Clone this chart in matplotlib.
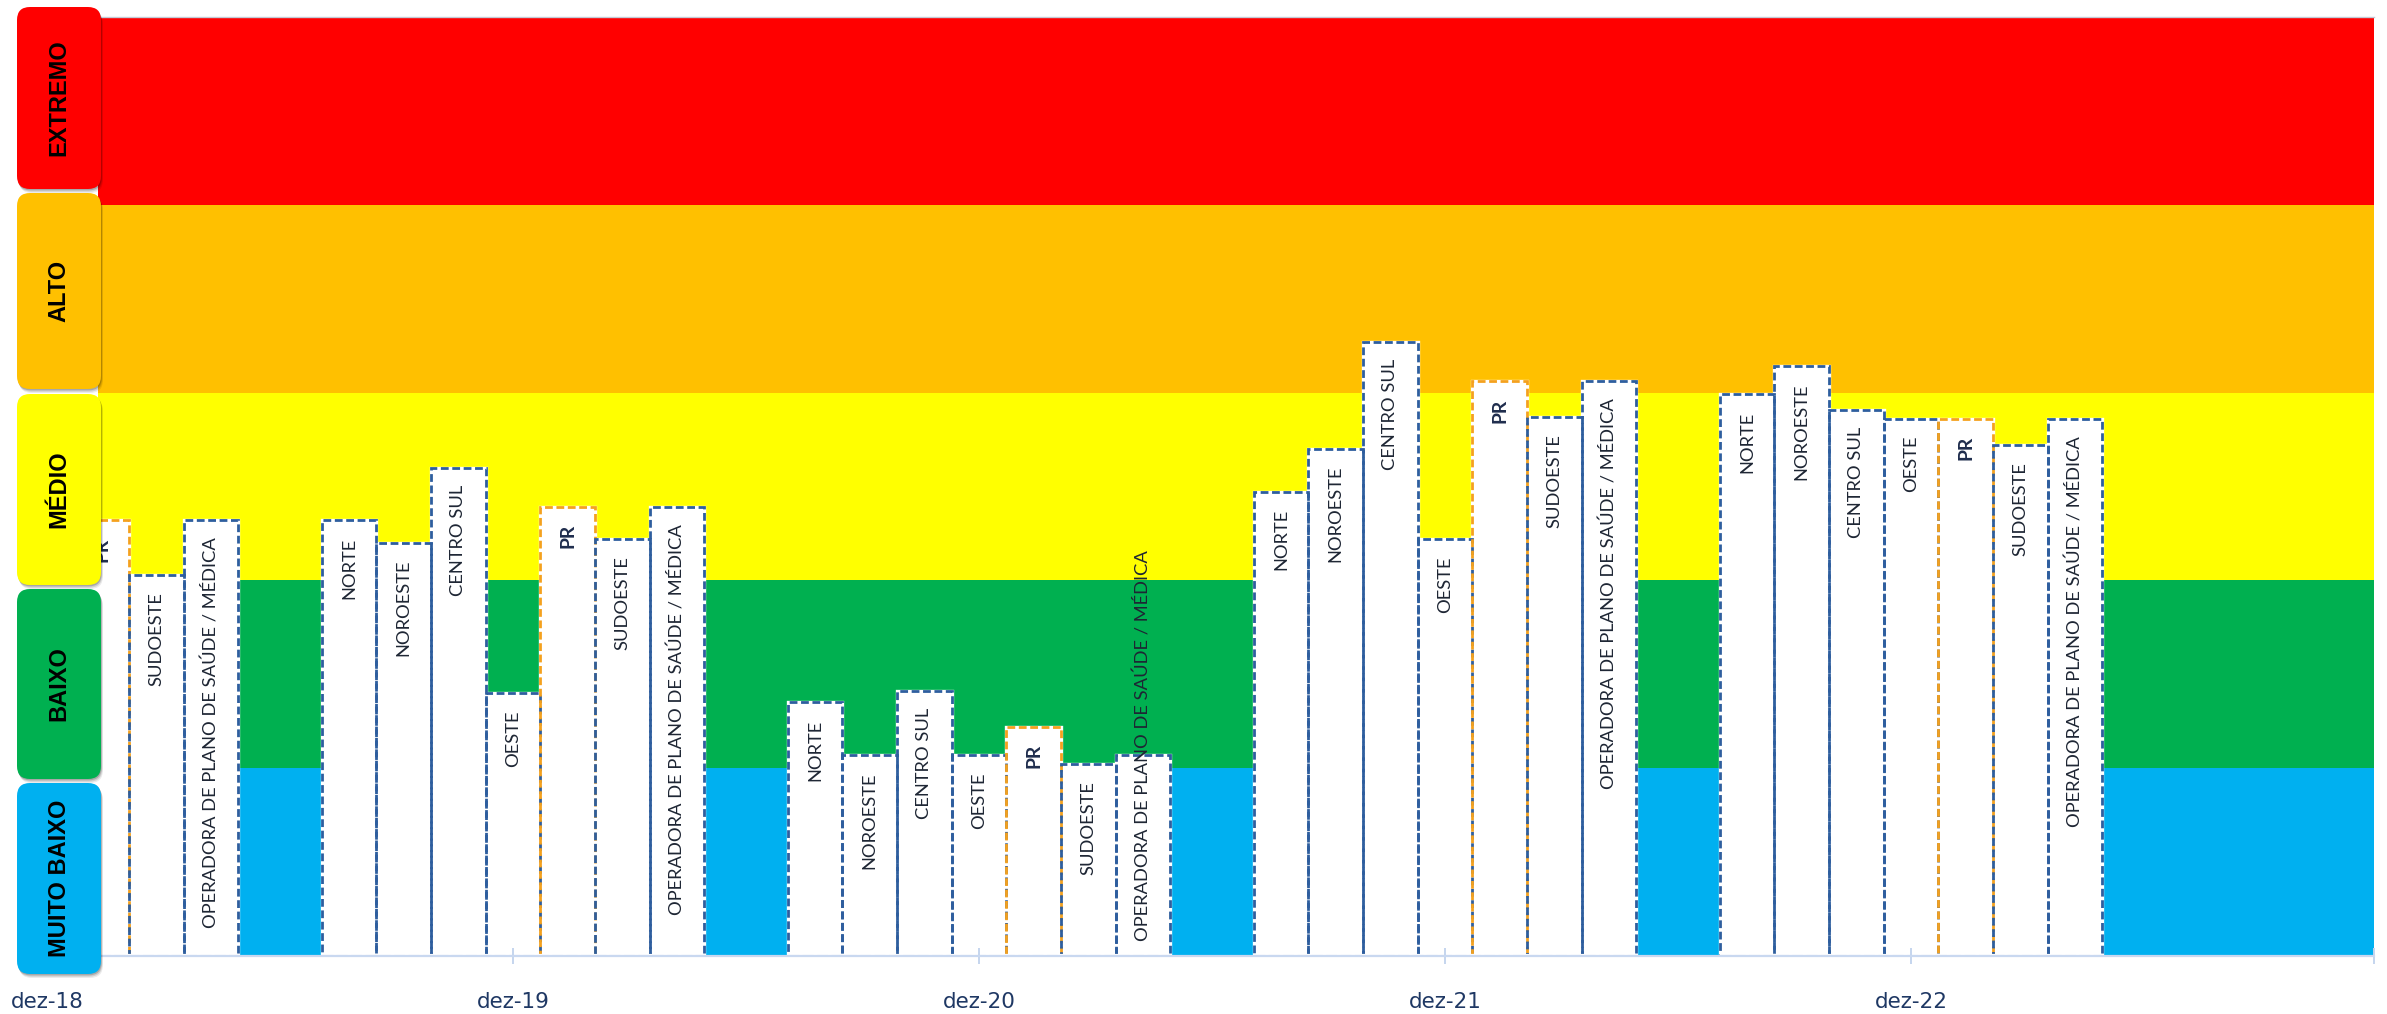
import numpy as np
import matplotlib
matplotlib.use('Agg')
import matplotlib.pyplot as plt
from matplotlib.patches import FancyBboxPatch
from matplotlib.ticker import FixedLocator, NullFormatter

# ---------------- data ----------------
periods = ['dez-18', 'dez-19', 'dez-20', 'dez-21', 'dez-22']
regions = ['NORTE', 'NOROESTE', 'CENTRO SUL', 'OESTE', 'PR', 'SUDOESTE',
           'OPERADORA DE PLANO DE SAÚDE / MÉDICA']
# values on the 0-5 risk scale (first group partly outside the visible window)
norte      = [np.nan, 2.32, 1.35, 2.47, 2.99]
noroeste   = [np.nan, 2.20, 1.07, 2.70, 3.14]
centro_sul = [np.nan, 2.60, 1.41, 3.27, 2.91]
oeste      = [np.nan, 1.40, 1.07, 2.22, 2.86]
pr         = [2.32, 2.39, 1.22, 3.06, 2.86]
sudoeste   = [2.03, 2.22, 1.02, 2.87, 2.72]
operadora  = [2.32, 2.39, 1.07, 3.06, 2.86]

levels = ['MUITO BAIXO', 'BAIXO', 'MÉDIO', 'ALTO', 'EXTREMO']
level_colors = ['#00B0F0', '#00B050', '#FFFF00', '#FFC000', '#FF0000']

# ---------------- figure ----------------
W, H = 2387, 1014
DPI = 100
fig = plt.figure(figsize=(W / DPI, H / DPI), dpi=DPI)
fig.patch.set_facecolor('white')

ax_l, ax_r, ax_t, ax_b = 98, 2374, 17, 956
ax = fig.add_axes([ax_l / W, (H - ax_b) / H, (ax_r - ax_l) / W, (ax_b - ax_t) / H])

x0 = np.arange(len(periods), dtype=float)
bw = 0.1172
xmin, xmax = 0.1094, 4.9936
ax.set_xlim(xmin, xmax)
ax.set_ylim(0, 5)

for i, c in enumerate(level_colors):
    ax.axhspan(i, i + 1, color=c, lw=0, zorder=0)

series = [norte, noroeste, centro_sul, oeste, pr, sudoeste, operadora]
blue_edge = '#2E5E9E'
orange_edge = '#F4A11E'

ax_h_px = ax_b - ax_t
pad_top_pt = 17 * 0.72

# bar label font size: fit the long label to ~390 px
lab_font = ['Lato', 'DejaVu Sans']
probe = fig.text(0, 0, regions[-1], fontsize=10, family=lab_font)
fig.canvas.draw()
pw = probe.get_window_extent().width
probe.remove()
lab_fs = 10 * 390 / pw

labels = []
for j, (name, vals) in enumerate(zip(regions, series)):
    vals = np.array(vals, dtype=float)
    xs = x0 + (j - 3) * bw
    m = ~np.isnan(vals)
    edge = orange_edge if name == 'PR' else blue_edge
    ax.bar(xs[m], vals[m], width=bw, color='white', edgecolor='white',
           linewidth=2.4, zorder=1)
    ax.bar(xs[m], vals[m], width=bw, fill=False, edgecolor=edge,
           linewidth=2.0, linestyle=(0, (2.8, 1.3)), zorder=1.1)
    for xv, v in zip(xs[m], vals[m]):
        t = ax.annotate(name, xy=(xv, v), xytext=(0, -pad_top_pt),
                        textcoords='offset points', rotation=90,
                        ha='center', va='top',
                        fontsize=lab_fs * (1.05 if name == 'PR' else 1.0),
                        family=lab_font,
                        fontweight='bold' if name == 'PR' else 'normal',
                        color='#1F2D4D' if name == 'PR' else '#1E2634',
                        zorder=1.6, clip_on=True)
        labels.append((t, xv))

# baseline under the bar groups (light dashed)
for xc in x0:
    gl, gr = xc - 3.5 * bw, xc + 3.5 * bw
    ax.hlines(0, gl, gr, colors='white', linewidth=3, zorder=1.4)
    ax.hlines(0, gl, gr, colors='#AFC4E6', linewidth=2.2,
              linestyles=(0, (3.5, 1.2)), zorder=1.5)

# push labels that do not fit inside short bars up from the baseline
fig.canvas.draw()
base_px = ax.transData.transform((0, 0))[1]
for t, xv in labels:
    bb = t.get_window_extent()
    if bb.y0 < base_px + 15:
        t.xy = (xv, 0)
        t.xyann = (0, 15 * 0.72)
        t.set_va('bottom')

# axes styling
for s in ['left', 'right']:
    ax.spines[s].set_visible(False)
ax.spines['top'].set_color('#C3CAD6')
ax.spines['top'].set_linewidth(1.0)
ax.spines['bottom'].set_color('#C9D8F0')
ax.spines['bottom'].set_linewidth(1.6)
ax.set_yticks([])
ax.xaxis.set_major_locator(FixedLocator(list(x0)))
ax.xaxis.set_major_formatter(NullFormatter())
ax.xaxis.set_minor_locator(FixedLocator([xmax]))
ax.tick_params(axis='x', which='both', direction='inout', length=11,
               width=1.4, color='#C5D5EE')

for xc, p in zip(x0, periods):
    ax.text(xc, -36 / ax_h_px, p, transform=ax.get_xaxis_transform(),
            ha='center', va='top', fontsize=15.5, family='DejaVu Sans',
            color='#1F3864', clip_on=False)

# level boxes on the left
box_x0, box_x1 = 17, 101
box_y = [(783, 974), (589, 779), (394, 585), (193, 389), (7, 189)]
for lev, col, (yt, yb) in zip(levels, level_colors, box_y):
    x_in = box_x0 / DPI
    w_in = (box_x1 - box_x0) / DPI
    y_in = (H - yb) / DPI
    h_in = (yb - yt) / DPI
    for k, a in enumerate([0.08, 0.12, 0.18]):
        off = (4 - k * 1.3) / DPI
        sh = FancyBboxPatch((x_in + off * 0.5, y_in - off), w_in, h_in,
                            boxstyle='round,pad=0,rounding_size=0.13',
                            transform=fig.dpi_scale_trans, facecolor='#000000',
                            edgecolor='none', alpha=a, zorder=5)
        fig.add_artist(sh)
    bx = FancyBboxPatch((x_in, y_in), w_in, h_in,
                        boxstyle='round,pad=0,rounding_size=0.13',
                        transform=fig.dpi_scale_trans, facecolor=col,
                        edgecolor='none', zorder=6)
    fig.add_artist(bx)
    fig.text(x_in + w_in / 2, y_in + h_in / 2, lev, rotation=90,
             ha='center', va='center', fontsize=17, fontweight='bold',
             family=['Liberation Sans', 'DejaVu Sans'], color='black',
             transform=fig.dpi_scale_trans, zorder=7)

fig.savefig('out.png', dpi=DPI, facecolor='white')
